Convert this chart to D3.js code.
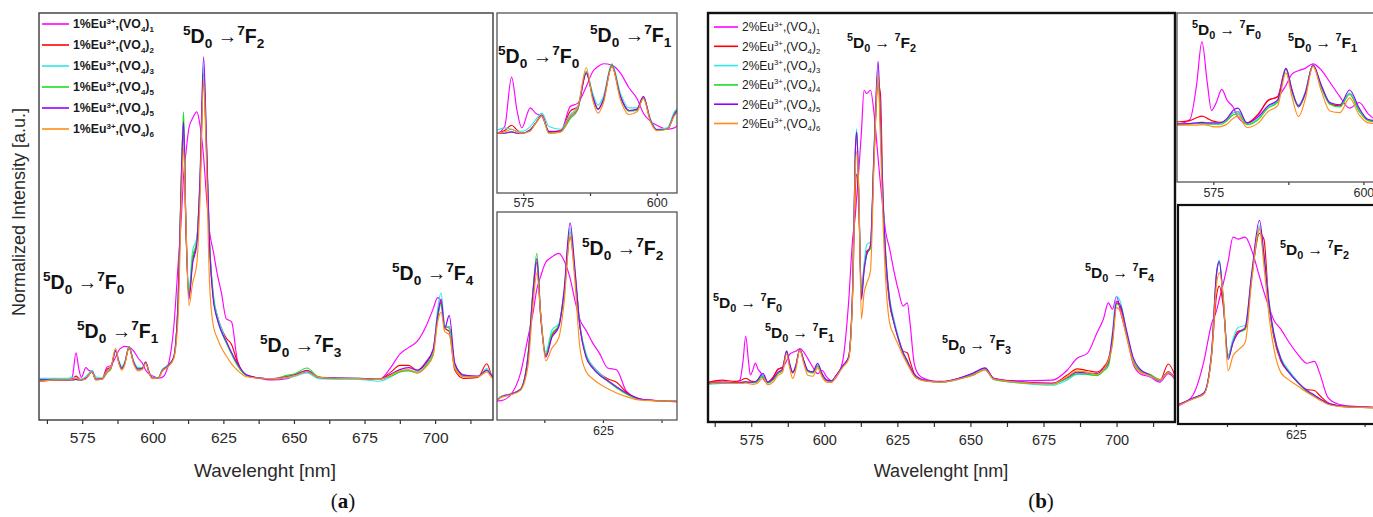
<!DOCTYPE html>
<html>
<head>
<meta charset="utf-8">
<script src="https://cdn.jsdelivr.net/npm/d3@7"></script>
<style>
  body { margin: 0; background: #fff; }
  svg { display: block; }
</style>
</head>
<body>
<div id="container"></div>
<script>
/* Define global constants */
const width = 1373
const height = 517
const FONT = "'Liberation Sans', Arial, sans-serif"
const colors = ["#ff00ff", "#ff0000", "#30e8e8", "#20dd20", "#9400ff", "#ff8c1a"]
const legendIdxA = ["1", "2", "3", "5", "5", "6"]
const legendIdxB = ["1", "2", "3", "4", "5", "6"]
const majorTicks = [575, 600, 625, 650, 675, 700]
const minorTicks = [562.5, 587.5, 612.5, 637.5, 662.5, 687.5, 712.5]

/* (a) 1% Eu3+ spectra, normalized */
const wlA = [560, 565, 570, 571.5, 572.8, 573.8, 574.7, 576.3, 577.3, 578.5, 579.8, 582, 583.8, 585.2, 586.8, 588, 589, 590, 591.6, 593.2,
  594.8, 596.3, 597.5, 598.8, 600, 602, 603.3, 605.3, 607.4, 609.0, 610.1, 610.9, 611.7, 612.8, 614.1, 615.6, 616.7, 618.0, 619.0, 620.1,
  621.4, 622.8, 624.3, 626.0, 627.9, 630.0, 633.1, 637.2, 642.3, 647.5, 650.5, 654.6, 658.7, 665.9, 673.1, 680.3, 684.4, 687.5, 690.6, 693.7,
  696.7, 699.3, 700.9, 702.1, 703.4, 705.0, 707.0, 710.1, 715.2, 718.3, 720.4, 722.4]
const a1 = [0, 0.002, 0, 0.01, 0.084, 0.035, 0.008, 0.038, 0.03, 0.025, 0.003, 0.003, 0.04, 0.045, 0.07, 0.092, 0.1, 0.104, 0.102, 0.09,
  0.068, 0.052, 0.03, 0.018, 0.012, 0.006, 0.008, 0.04, 0.16, 0.36, 0.5, 0.63, 0.7, 0.78, 0.81, 0.83, 0.79, 0.69, 0.57, 0.46,
  0.4, 0.33, 0.27, 0.19, 0.18, 0.06, 0.015, 0.006, 0, 0.004, 0.015, 0.025, 0.008, 0.005, 0.004, 0.002, 0.04, 0.08, 0.1, 0.12,
  0.165, 0.22, 0.255, 0.24, 0.17, 0.16, 0.05, 0.015, 0.01, 0.03, 0.012, 0.002]
const a2 = [-0.005, 0, 0, 0.004, 0.012, 0.005, 0, 0.005, 0.015, 0.027, 0.002, 0.004, 0.033, 0.04, 0.09, 0.055, 0.036, 0.05, 0.1, 0.055,
  0.034, 0.036, 0.055, 0.02, 0.005, 0.007, 0.03, 0.045, 0.07, 0.25, 0.6, 0.78, 0.48, 0.26, 0.37, 0.43, 0.6, 0.92, 0.72, 0.42,
  0.26, 0.2, 0.16, 0.13, 0.11, 0.055, 0.015, 0.006, 0.004, 0.01, 0.016, 0.028, 0.008, 0.005, 0.004, 0.002, 0.025, 0.045, 0.045, 0.03,
  0.05, 0.09, 0.2, 0.24, 0.16, 0.15, 0.03, 0.005, 0.008, 0.05, 0.008, 0.003]
const a3 = [0.005, 0.005, 0.005, 0.008, 0.006, 0.003, 0.003, 0.01, 0.02, 0.03, 0.01, 0.006, 0.028, 0.04, 0.093, 0.06, 0.042, 0.055, 0.104, 0.06,
  0.038, 0.038, 0.052, 0.022, 0.006, 0.008, 0.032, 0.045, 0.07, 0.25, 0.62, 0.8, 0.5, 0.28, 0.4, 0.44, 0.62, 0.97, 0.74, 0.43,
  0.27, 0.2, 0.16, 0.12, 0.08, 0.045, 0.015, 0.006, 0.003, 0.006, 0.012, 0.022, 0.004, 0.002, 0.002, -0.004, 0.01, 0.025, 0.03, 0.025,
  0.045, 0.085, 0.22, 0.27, 0.17, 0.16, 0.04, 0.015, 0.01, 0.035, 0.01, 0.004]
const a4 = [0, 0.002, 0, 0, 0.002, 0, 0, 0.005, 0.015, 0.026, 0, 0.002, 0.022, 0.035, 0.092, 0.055, 0.036, 0.05, 0.103, 0.055,
  0.033, 0.034, 0.053, 0.02, 0.005, 0.006, 0.028, 0.042, 0.07, 0.26, 0.63, 0.83, 0.5, 0.27, 0.38, 0.43, 0.6, 0.95, 0.72, 0.42,
  0.26, 0.19, 0.15, 0.115, 0.08, 0.045, 0.014, 0.006, 0.004, 0.014, 0.02, 0.037, 0.01, 0.006, 0.005, 0.003, 0.012, 0.025, 0.028, 0.022,
  0.042, 0.08, 0.19, 0.235, 0.16, 0.165, 0.045, 0.012, 0.01, 0.03, 0.01, 0.002]
const a5 = [0, 0, 0, 0, 0.002, 0, 0, 0.005, 0.015, 0.027, 0.002, 0.003, 0.025, 0.037, 0.09, 0.055, 0.036, 0.05, 0.101, 0.055,
  0.034, 0.036, 0.055, 0.02, 0.005, 0.006, 0.028, 0.043, 0.07, 0.25, 0.62, 0.8, 0.49, 0.25, 0.36, 0.42, 0.62, 1.0, 0.75, 0.42,
  0.25, 0.19, 0.15, 0.12, 0.085, 0.05, 0.016, 0.007, 0.003, 0.01, 0.016, 0.03, 0.008, 0.006, 0.005, 0.002, 0.018, 0.032, 0.038, 0.03,
  0.055, 0.095, 0.2, 0.25, 0.16, 0.2, 0.05, 0.015, 0.012, 0.03, 0.01, 0.004]
const a6 = [-0.005, 0, 0, 0.002, 0.006, 0.002, 0, 0.003, 0.015, 0.026, 0, 0.002, 0.025, 0.038, 0.098, 0.05, 0.03, 0.045, 0.1, 0.05,
  0.028, 0.032, 0.052, 0.018, 0.004, 0.006, 0.026, 0.04, 0.065, 0.2, 0.55, 0.72, 0.5, 0.23, 0.3, 0.36, 0.55, 0.93, 0.68, 0.3,
  0.17, 0.13, 0.1, 0.075, 0.05, 0.03, 0.01, 0.006, 0.004, 0.008, 0.014, 0.026, 0.008, 0.005, 0.004, 0.002, 0.015, 0.028, 0.032, 0.022,
  0.04, 0.075, 0.18, 0.21, 0.15, 0.14, 0.035, 0.01, 0.01, 0.025, 0.005, 0.002]

/* (b) 2% Eu3+ spectra, normalized */
const wlB = [560, 565, 569.4, 571.1, 572.2, 573.1, 574, 574.7, 575.5, 576.4, 577.3, 578.3, 579.1, 580.6, 582.5, 584.1, 585.7, 587.1, 588.1, 589.2,
  590.3, 591.6, 593, 594.4, 596.1, 597.7, 599.3, 600.8, 602.5, 604, 606.3, 608.3, 609.7, 610.6, 611.1, 611.8, 612.7, 613.6, 614.5, 615.8,
  617, 618.4, 619.2, 620.1, 621, 622.3, 623.8, 625.3, 627, 628.4, 629.3, 630.8, 632.5, 635, 640, 646, 651, 655, 658, 666,
  678, 683, 686.5, 690, 693.2, 695.5, 697.2, 698.6, 700, 701.4, 703.4, 705.7, 708, 711.4, 714.8, 717.7, 720.5]
const b1 = [0.005, 0.005, 0.003, 0.01, 0.07, 0.147, 0.074, 0.026, 0.04, 0.063, 0.044, 0.032, 0.014, 0.003, 0.018, 0.044, 0.05, 0.07, 0.09, 0.096,
  0.1, 0.108, 0.097, 0.076, 0.05, 0.03, 0.04, 0.02, 0.008, 0.018, 0.07, 0.25, 0.45, 0.52, 0.58, 0.66, 0.78, 0.91, 0.9, 0.91,
  0.84, 0.7, 0.62, 0.54, 0.47, 0.42, 0.35, 0.29, 0.24, 0.25, 0.19, 0.06, 0.025, 0.012, 0.005, 0.015, 0.032, 0.046, 0.015, 0.008,
  0.01, 0.04, 0.078, 0.093, 0.155, 0.2, 0.25, 0.23, 0.27, 0.22, 0.15, 0.06, 0.03, 0.02, 0.004, 0.03, 0.005]
const b2 = [0.002, 0.01, 0.006, 0.008, 0.013, 0.016, 0.012, 0.008, 0.006, 0.005, 0.01, 0.022, 0.024, 0.004, 0.02, 0.043, 0.05, 0.1, 0.062, 0.032,
  0.056, 0.106, 0.068, 0.038, 0.034, 0.056, 0.026, 0.009, 0.006, 0.023, 0.053, 0.08, 0.28, 0.6, 0.65, 0.55, 0.28, 0.36, 0.41, 0.42,
  0.7, 0.93, 0.9, 0.56, 0.38, 0.25, 0.19, 0.14, 0.1, 0.095, 0.07, 0.03, 0.015, 0.008, 0.004, 0.015, 0.026, 0.044, 0.014, 0.004,
  0, 0.025, 0.045, 0.04, 0.035, 0.05, 0.075, 0.14, 0.25, 0.235, 0.155, 0.07, 0.038, 0.025, 0.008, 0.06, 0.01]
const b3 = [-0.003, 0, 0.002, 0.003, 0.003, 0.004, 0.003, 0.003, 0.003, 0.005, 0.01, 0.022, 0.024, 0.002, 0.012, 0.032, 0.042, 0.1, 0.06, 0.036,
  0.058, 0.106, 0.07, 0.04, 0.036, 0.056, 0.026, 0.01, 0.006, 0.023, 0.053, 0.08, 0.29, 0.72, 0.79, 0.6, 0.28, 0.37, 0.43, 0.44,
  0.72, 0.97, 0.82, 0.58, 0.4, 0.27, 0.2, 0.145, 0.095, 0.07, 0.05, 0.027, 0.015, 0.008, 0.004, 0.012, 0.028, 0.044, 0.012, 0.002,
  -0.006, 0.01, 0.028, 0.028, 0.025, 0.04, 0.06, 0.16, 0.27, 0.25, 0.16, 0.075, 0.04, 0.022, 0.008, 0.035, 0.01]
const b4 = [0, 0.003, 0.002, 0.002, 0.003, 0.003, 0.002, 0.002, 0.002, 0.002, 0.008, 0.018, 0.02, 0.001, 0.01, 0.03, 0.04, 0.098, 0.058, 0.033,
  0.054, 0.104, 0.066, 0.037, 0.032, 0.054, 0.024, 0.008, 0.006, 0.022, 0.052, 0.078, 0.29, 0.71, 0.78, 0.58, 0.27, 0.35, 0.4, 0.42,
  0.7, 0.95, 0.8, 0.56, 0.39, 0.26, 0.19, 0.14, 0.09, 0.065, 0.048, 0.025, 0.013, 0.007, 0.004, 0.014, 0.028, 0.042, 0.012, 0.002,
  -0.002, 0.015, 0.03, 0.028, 0.024, 0.038, 0.055, 0.13, 0.245, 0.24, 0.155, 0.07, 0.04, 0.028, 0.012, 0.035, 0.01]
const b5 = [0, 0.002, 0.002, 0.003, 0.004, 0.005, 0.004, 0.004, 0.004, 0.005, 0.012, 0.026, 0.03, 0.004, 0.015, 0.034, 0.044, 0.1, 0.062, 0.034,
  0.056, 0.106, 0.07, 0.04, 0.036, 0.062, 0.03, 0.01, 0.008, 0.024, 0.055, 0.082, 0.3, 0.72, 0.78, 0.58, 0.26, 0.35, 0.4, 0.43,
  0.72, 1.0, 0.82, 0.57, 0.4, 0.26, 0.19, 0.14, 0.095, 0.07, 0.052, 0.028, 0.016, 0.009, 0.006, 0.016, 0.032, 0.048, 0.016, 0.006,
  0, 0.018, 0.035, 0.032, 0.03, 0.045, 0.065, 0.15, 0.255, 0.24, 0.165, 0.08, 0.045, 0.026, 0.01, 0.036, 0.01]
const b6 = [-0.003, 0.002, 0, 0, 0, 0.001, 0, -0.002, -0.003, -0.002, 0.002, 0.012, 0.016, -0.004, 0.004, 0.024, 0.034, 0.092, 0.05, 0.015,
  0.045, 0.104, 0.06, 0.025, 0.022, 0.048, 0.018, 0.004, 0.003, 0.02, 0.05, 0.075, 0.28, 0.66, 0.72, 0.6, 0.2, 0.28, 0.31, 0.35,
  0.68, 0.96, 0.76, 0.5, 0.32, 0.19, 0.15, 0.12, 0.085, 0.06, 0.045, 0.022, 0.012, 0.007, 0.004, 0.013, 0.025, 0.042, 0.013, 0.004,
  -0.002, 0.02, 0.038, 0.035, 0.028, 0.042, 0.07, 0.12, 0.235, 0.22, 0.145, 0.065, 0.035, 0.024, 0.01, 0.035, 0.01]

const seriesA = [a1, a2, a3, a4, a5, a6]
const seriesB = [b1, b2, b3, b4, b5, b6]

/* plot frames: main + two insets per figure */
const panels = [
  {id: "am", x0: 39, x1: 493, y0: 13, y1: 420, xd: [559.7, 720.5], yd: [-0.124, 1.136], wl: wlA, ser: seriesA,
   stroke: "#3a3a3a", sw: 1.4, major: majorTicks, minor: minorTicks, fs: 15.5, tick: 4, pad: 8},
  {id: "at", x0: 497, x1: 677, y0: 13, y1: 193, xd: [570.07, 603.8], yd: [-0.0895, 0.18], wl: wlA, ser: seriesA,
   stroke: "#555", sw: 1.3, major: [575, 600], minor: [587.5], fs: 12.5, tick: 3, pad: 2},
  {id: "ab", x0: 497, x1: 677, y0: 212, y1: 420, xd: [602.4, 640.8], yd: [-0.1006, 1.061], wl: wlA, ser: seriesA,
   stroke: "#555", sw: 1.3, major: [625], minor: [612.5, 637.5], fs: 12.5, tick: 3, pad: 3},
  {id: "bm", x0: 708, x1: 1175, y0: 13, y1: 422, xd: [560.2, 720], yd: [-0.12, 1.15], wl: wlB, ser: seriesB,
   stroke: "#111", sw: 2.4, major: majorTicks, minor: minorTicks, fs: 14.5, tick: 5, pad: 8},
  {id: "bt", x0: 1177, x1: 1385, y0: 13, y1: 182, xd: [568.95, 603.6], yd: [-0.1, 0.1975], wl: wlB, ser: seriesB,
   stroke: "#555", sw: 1.3, major: [575, 600], minor: [587.5], fs: 12.5, tick: 3, pad: 3},
  {id: "bb", x0: 1178, x1: 1385, y0: 205, y1: 424, xd: [603.6, 641.2], yd: [-0.083, 1.081], wl: wlB, ser: seriesB,
   stroke: "#111", sw: 2.2, major: [625], minor: [612.5, 637.5], fs: 12.5, tick: 3, pad: 3}
]

/* transition labels: [final-state index, x, baseline y] */
const labelsA = [
  ["2", 183, 43], ["0", 43, 289], ["1", 77, 338], ["3", 260, 352], ["4", 392, 280],
  ["0", 498, 63], ["1", 590, 42], ["2", 582, 255]
]
const labelsB = [
  ["2", 847, 48], ["0", 713, 308], ["1", 765, 338], ["3", 942, 350], ["4", 1085, 278],
  ["0", 1192, 35], ["1", 1288, 48], ["2", 1280, 255]
]

/* Define the main svg */
const svg = d3.select("#container")
  .append("svg")
  .attr("width", width)
  .attr("height", height)
  .style("font-family", FONT)

const defs = svg.append("defs")

panels.forEach((p) => {
  const x = d3.scaleLinear().domain(p.xd).range([p.x0, p.x1])
  const y = d3.scaleLinear().domain(p.yd).range([p.y1, p.y0])

  defs.append("clipPath").attr("id", "clip-" + p.id)
    .append("rect")
    .attr("x", p.x0).attr("y", p.y0)
    .attr("width", p.x1 - p.x0).attr("height", p.y1 - p.y0)

  const line = d3.line()
    .x((d) => x(d[0]))
    .y((d) => y(d[1]))
    .curve(d3.curveMonotoneX)

  const g = svg.append("g").attr("clip-path", "url(#clip-" + p.id + ")")
  p.ser.forEach((s, i) => {
    g.append("path")
      .datum(p.wl.map((w, k) => [w, s[k]]))
      .attr("d", line)
      .attr("fill", "none")
      .attr("stroke", colors[i])
      .attr("stroke-width", 1.15)
      .attr("stroke-linejoin", "round")
  })

  // ticks below the frame
  const axMajor = d3.axisBottom(x).tickValues(p.major).tickSize(p.tick).tickPadding(p.pad).tickFormat(d3.format("d"))
  const axMinor = d3.axisBottom(x).tickValues(p.minor).tickSize(p.tick).tickFormat("")
  const gx = svg.append("g").attr("transform", "translate(0," + p.y1 + ")").call(axMajor)
  const gm = svg.append("g").attr("transform", "translate(0," + p.y1 + ")").call(axMinor)
  ;[gx, gm].forEach((a) => {
    a.select(".domain").remove()
    a.selectAll("line").attr("stroke", "#333").attr("stroke-width", 1.2)
  })
  gx.selectAll("text")
    .attr("font-size", p.fs)
    .attr("font-family", FONT)
    .attr("fill", "#2a2a2a")

  svg.append("rect")
    .attr("x", p.x0).attr("y", p.y0)
    .attr("width", p.x1 - p.x0).attr("height", p.y1 - p.y0)
    .attr("fill", "none")
    .attr("stroke", p.stroke)
    .attr("stroke-width", p.sw)
})

/* helpers for sub/superscript labels */
const addTransition = (fin, x, y, size, spaced) => {
  const small = size * 0.7
  const up = size * 0.42
  const down = size * 0.28
  const t = svg.append("text")
    .attr("x", x).attr("y", y)
    .attr("font-size", size)
    .attr("font-weight", "bold")
    .attr("fill", "#111")
  t.append("tspan").attr("font-size", small).attr("dy", -up).text("5")
  t.append("tspan").attr("dy", up).text("D")
  t.append("tspan").attr("font-size", small).attr("dy", down).text("0")
  t.append("tspan").attr("dy", -down).text(spaced ? " \u2192 " : " \u2192")
  t.append("tspan").attr("font-size", small).attr("dy", -up).text("7")
  t.append("tspan").attr("dy", up).text("F")
  t.append("tspan").attr("font-size", small).attr("dy", down).text(fin)
}

labelsA.forEach((l) => addTransition(l[0], l[1], l[2], 19.5, false))
labelsB.forEach((l) => addTransition(l[0], l[1], l[2], 15.5, true))

/* legends */
const addLegend = (pct, idx, lx, ly, step, lineLen, size, weight) => {
  idx.forEach((n, i) => {
    const yy = ly + i * step
    svg.append("line")
      .attr("x1", lx).attr("x2", lx + lineLen)
      .attr("y1", yy).attr("y2", yy)
      .attr("stroke", colors[i])
      .attr("stroke-width", 1.6)
    const t = svg.append("text")
      .attr("x", lx + lineLen + 4).attr("y", yy + size * 0.36)
      .attr("font-size", size)
      .attr("font-weight", weight)
      .attr("fill", "#1a1a1a")
    t.append("tspan").text(pct + "%Eu")
    t.append("tspan").attr("font-size", size * 0.65).attr("dy", -size * 0.4).text("3+")
    t.append("tspan").attr("dy", size * 0.4).text(",(VO")
    t.append("tspan").attr("font-size", size * 0.65).attr("dy", size * 0.25).text("4")
    t.append("tspan").attr("dy", -size * 0.25).text(")")
    t.append("tspan").attr("font-size", size * 0.65).attr("dy", size * 0.25).text(n)
  })
}
addLegend("1", legendIdxA, 42, 24, 21, 27, 12.3, "bold")
addLegend("2", legendIdxB, 714, 27, 19.3, 24, 12, "normal")

/* axis titles */
svg.append("text")
  .attr("transform", "translate(25,212) rotate(-90)")
  .attr("text-anchor", "middle")
  .attr("font-size", 18)
  .attr("fill", "#2a2a2a")
  .text("Normalized Intensity [a.u.]")

;[[265, 19], [941, 18]].forEach((d) => {
  svg.append("text")
    .attr("x", d[0]).attr("y", 477)
    .attr("text-anchor", "middle")
    .attr("font-size", d[1])
    .attr("fill", "#2a2a2a")
    .text("Wavelenght [nm]")
})

;[[343, "a"], [1041, "b"]].forEach((d) => {
  const t = svg.append("text")
    .attr("x", d[0]).attr("y", 508)
    .attr("text-anchor", "middle")
    .attr("font-family", "'Liberation Serif', 'DejaVu Serif', serif")
    .attr("font-size", 21)
    .attr("fill", "#111")
  t.append("tspan").text("(")
  t.append("tspan").attr("font-weight", "bold").text(d[1])
  t.append("tspan").text(")")
})
</script>
</body>
</html>
